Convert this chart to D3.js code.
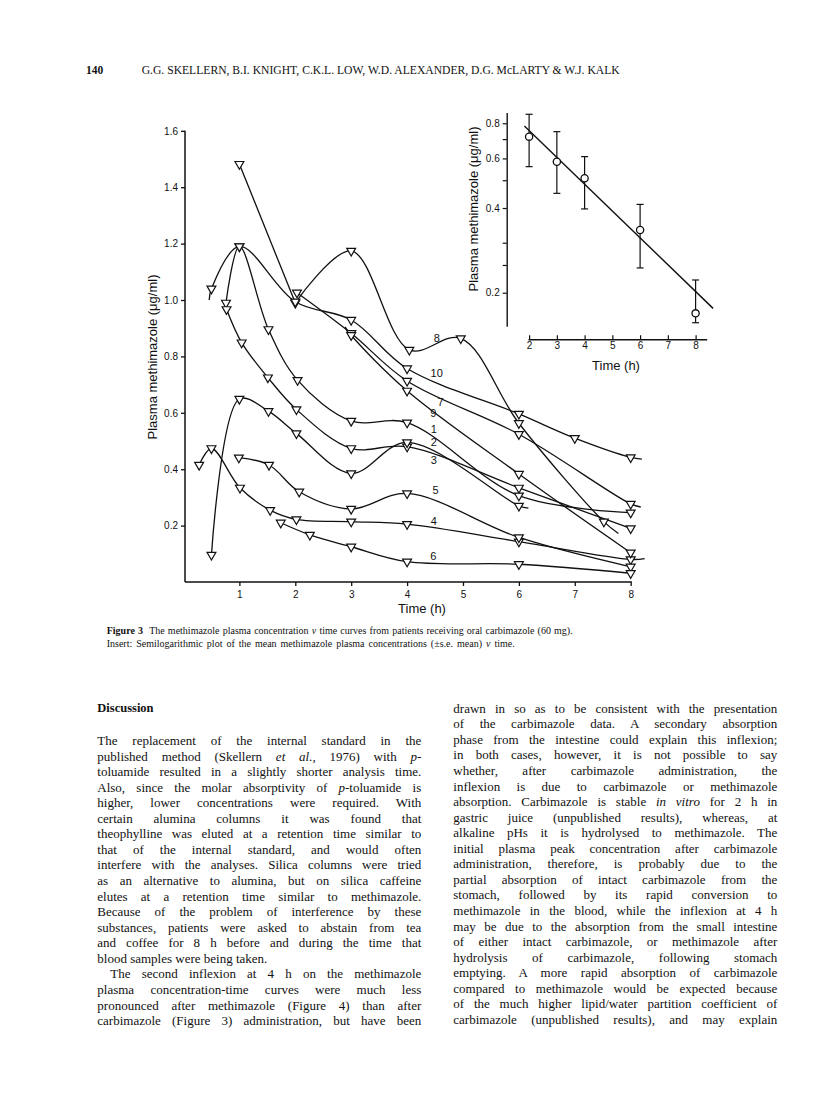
<!DOCTYPE html>
<html><head><meta charset="utf-8">
<script src="https://cdn.jsdelivr.net/npm/d3@7"></script>
<style>body{margin:0;background:#fff}</style>
</head><body>
<svg id="pg" width="816" height="1117"></svg>
<script>
// ---------- DATA ----------
const mainXTicks = [1, 2, 3, 4, 5, 6, 7, 8];
const mainYTicks = [0.2, 0.4, 0.6, 0.8, 1.0, 1.2, 1.4, 1.6];
// patient curves: [time (h), concentration (ug/ml)]
const curve1 = [[0.76, 0.99], [1, 1.19], [1.52, 0.896], [2.04, 0.716], [3, 0.571], [4, 0.565], [6, 0.306], [8, 0.246]];
const curve2 = [[0.77, 0.967], [1.04, 0.849], [1.51, 0.725], [2.02, 0.612], [3, 0.474], [4, 0.48], [6, 0.334], [8, 0.19]];
const curve3 = [[0.5, 0.096], [1, 0.649], [1.52, 0.606], [2.02, 0.527], [3, 0.385], [4, 0.495], [6, 0.27]];
const curve4 = [[0.28, 0.415], [0.5, 0.474], [1.01, 0.334], [1.55, 0.255], [2.02, 0.222], [3, 0.214], [4, 0.205], [6, 0.143], [8, 0.08]];
const curve5 = [[0.99, 0.441], [1.53, 0.415], [2.07, 0.32], [3, 0.259], [4, 0.314], [6, 0.158], [8, 0.054]];
const curve6 = [[1.74, 0.21], [2.26, 0.167], [3, 0.125], [4, 0.072], [6, 0.063], [8, 0.031]];
const curve7 = [[2.03, 1.026], [3, 0.882], [4, 0.713], [6, 0.524], [8, 0.277]];
const curve8a = [[1, 1.482], [2, 0.99]];
const curve8 = [[2, 0.99], [3, 1.174], [4.04, 0.823], [4.96, 0.864], [6, 0.563], [7.52, 0.214]];
const curve9 = [[3, 0.875], [4, 0.678], [6, 0.383], [8, 0.104]];
const curve10 = [[0.5, 1.04], [1, 1.19], [2, 0.994], [3, 0.929], [4, 0.757], [6, 0.596], [7, 0.51], [8, 0.442]];
// unmarked line ends (lead-in / run-out of the hand-drawn curves)
const curve10Head = [0.46, 1.0];
const curve9Head = [2.89, 0.905];
const curve3Tail = [6.17, 0.262];
const curve8Tail = [7.78, 0.172];
const curve10Tail = [8.2, 0.436];
const curve7Tail = [8.18, 0.266];
const curve4Tail = [8.25, 0.083];
const curveLabels = ["1", "2", "3", "4", "5", "6", "7", "8", "9", "10"];
const curveLabelAt = [[4.48, 0.541], [4.48, 0.497], [4.48, 0.433], [4.48, 0.216], [4.51, 0.326], [4.47, 0.09], [4.6, 0.638], [4.53, 0.864], [4.47, 0.599], [4.53, 0.74]];

// insert: mean +- s.e.
const insTime = [2, 3, 4, 6, 8];
const insMean = [0.717, 0.584, 0.51, 0.334, 0.169];
const insHigh = [0.861, 0.747, 0.609, 0.412, 0.222];
const insLow = [0.561, 0.451, 0.397, 0.245, 0.1565];
const insFit = [[1.83, 0.782], [8.63, 0.176]];
const insXTicks = [2, 3, 4, 5, 6, 7, 8];
const insYMajor = [0.2, 0.4, 0.6, 0.8];
const insYMinor = [0.25, 0.3, 0.5, 0.7];

// text
const headerNum = "140";
const headerAuthors = "G.G. SKELLERN, B.I. KNIGHT, C.K.L. LOW, W.D. ALEXANDER, D.G. McLARTY & W.J. KALK";
const caption1 = "**Figure 3**  The methimazole plasma concentration *v* time curves from patients receiving oral carbimazole (60 mg).";
const caption2 = "Insert: Semilogarithmic plot of the mean methimazole plasma concentrations (\u00b1s.e. mean) *v* time.";
const leftHeading = "**Discussion**";
const leftCol = [
  "The replacement of the internal standard in the",
  "published method (Skellern *et al.,* 1976) with *p-*",
  "toluamide resulted in a slightly shorter analysis time.",
  "Also, since the molar absorptivity of *p*-toluamide is",
  "higher, lower concentrations were required. With",
  "certain alumina columns it was found that",
  "theophylline was eluted at a retention time similar to",
  "that of the internal standard, and would often",
  "interfere with the analyses. Silica columns were tried",
  "as an alternative to alumina, but on silica caffeine",
  "elutes at a retention time similar to methimazole.",
  "Because of the problem of interference by these",
  "substances, patients were asked to abstain from tea",
  "and coffee for 8 h before and during the time that",
  "blood samples were being taken.",
  ">The second inflexion at 4 h on the methimazole",
  "plasma concentration-time curves were much less",
  "pronounced after methimazole (Figure 4) than after",
  "carbimazole (Figure 3) administration, but have been"
];
const rightCol = [
  "drawn in so as to be consistent with the presentation",
  "of the carbimazole data. A secondary absorption",
  "phase from the intestine could explain this inflexion;",
  "in both cases, however, it is not possible to say",
  "whether, after carbimazole administration, the",
  "inflexion is due to carbimazole or methimazole",
  "absorption. Carbimazole is stable *in vitro* for 2 h in",
  "gastric juice (unpublished results), whereas, at",
  "alkaline pHs it is hydrolysed to methimazole. The",
  "initial plasma peak concentration after carbimazole",
  "administration, therefore, is probably due to the",
  "partial absorption of intact carbimazole from the",
  "stomach, followed by its rapid conversion to",
  "methimazole in the blood, while the inflexion at 4 h",
  "may be due to the absorption from the small intestine",
  "of either intact carbimazole, or methimazole after",
  "hydrolysis of carbimazole, following stomach",
  "emptying. A more rapid absorption of carbimazole",
  "compared to methimazole would be expected because",
  "of the much higher lipid/water partition coefficient of",
  "carbimazole (unpublished results), and may explain"
];

// ---------- DRAW ----------
const svg = d3.select("#pg");
const SANS = "'Liberation Sans', Arial, sans-serif";
const SERIF = "'Liberation Serif', 'Times New Roman', serif";
const INK = "#111";

// main chart scales
const x = d3.scaleLinear([0, 8.02], [183.5, 631.8]);
const y = d3.scaleLinear([0, 1.6], [582, 130.8]);
const main = svg.append("g");

const xAx = main.append("g").attr("transform", "translate(0,582)")
  .call(d3.axisBottom(x).tickValues(mainXTicks).tickSize(4).tickSizeOuter(0).tickFormat(d3.format("d")));
const yAx = main.append("g").attr("transform", "translate(185,0)")
  .call(d3.axisLeft(y).tickValues(mainYTicks).tickSize(4).tickSizeOuter(0).tickFormat(d3.format(".1f")));
[xAx, yAx].forEach(a => {
  a.select(".domain").attr("stroke", INK).attr("stroke-width", 1.5);
  a.selectAll(".tick line").attr("stroke", INK).attr("stroke-width", 1.3);
  a.selectAll("text").attr("font-family", SANS).attr("font-size", 10).attr("fill", INK);
});
xAx.select(".domain").attr("d", `M${x(0) + 1.5},0H${x(8.02)}`);
xAx.selectAll("text").attr("dy", "0.9em");
yAx.select(".domain").attr("d", `M0,${y(0)}V${y(1.6)}`);

main.append("text").attr("x", 422).attr("y", 613).attr("text-anchor", "middle")
  .attr("font-family", SANS).attr("font-size", 13).attr("fill", INK).text("Time (h)");
main.append("text").attr("transform", "translate(157,357) rotate(-90)").attr("text-anchor", "middle")
  .attr("font-family", SANS).attr("font-size", 13).attr("fill", INK).text("Plasma methimazole (\u03bcg/ml)");

const smooth = d3.line().x(d => x(d[0])).y(d => y(d[1])).curve(d3.curveCatmullRom.alpha(0.5));
const straight = d3.line().x(d => x(d[0])).y(d => y(d[1]));
const series = [
  { pts: curve1 },
  { pts: curve2 },
  { pts: curve3, tail: curve3Tail },
  { pts: curve4, tail: curve4Tail },
  { pts: curve5 },
  { pts: curve6 },
  { pts: curve7, tail: curve7Tail },
  { pts: curve8, tail: curve8Tail },
  { pts: curve9, head: curve9Head },
  { pts: curve10, head: curve10Head, tail: curve10Tail }
];
const lines = main.append("g").attr("fill", "none").attr("stroke", INK).attr("stroke-width", 1.3);
series.forEach(s => {
  const all = (s.head ? [s.head] : []).concat(s.pts, s.tail ? [s.tail] : []);
  lines.append("path").attr("d", smooth(all));
});
lines.append("path").attr("d", straight(curve8a));

const tri = d3.symbol(d3.symbolTriangle, 34)();
const marks = main.append("g");
const allPts = series.flatMap(s => s.pts).concat(curve8a.slice(0, 1));
marks.selectAll("path").data(allPts).join("path")
  .attr("d", tri)
  .attr("transform", d => `translate(${x(d[0])},${y(d[1])}) rotate(180)`)
  .attr("fill", "#fff").attr("stroke", INK).attr("stroke-width", 1.2);

main.append("g").selectAll("text").data(curveLabels).join("text")
  .attr("x", (d, i) => x(curveLabelAt[i][0])).attr("y", (d, i) => y(curveLabelAt[i][1]))
  .attr("dy", "0.35em").attr("text-anchor", "middle")
  .attr("font-family", SANS).attr("font-size", 11).attr("fill", INK).text(d => d);

// insert
const xi = d3.scaleLinear([1.96, 8.4], [528, 706.7]);
const yi = d3.scaleLog([0.152, 0.873], [326.3, 112.6]);
const ins = svg.append("g");
const xiAx = ins.append("g").attr("transform", "translate(0,339.3)")
  .call(d3.axisTop(xi).tickValues(insXTicks).tickSize(4).tickSizeOuter(0).tickFormat(d3.format("d")));
xiAx.selectAll("text").attr("transform", "translate(0,17)");
const yiAx = ins.append("g").attr("transform", "translate(506.7,0)")
  .call(d3.axisLeft(yi).tickValues(insYMajor).tickSize(4).tickSizeOuter(0).tickFormat(d3.format(".1f")));
yiAx.append("g").selectAll("line").data(insYMinor).join("line")
  .attr("x1", -4).attr("x2", 0).attr("y1", d => yi(d)).attr("y2", d => yi(d));
[xiAx, yiAx].forEach(a => {
  a.select(".domain").attr("stroke", INK).attr("stroke-width", 1.4);
  a.selectAll("line").attr("stroke", INK).attr("stroke-width", 1.2);
  a.selectAll("text").attr("font-family", SANS).attr("font-size", 10).attr("fill", INK);
});
ins.append("text").attr("x", 616).attr("y", 370).attr("text-anchor", "middle")
  .attr("font-family", SANS).attr("font-size", 13).attr("fill", INK).text("Time (h)");
ins.append("text").attr("transform", "translate(478,209) rotate(-90)").attr("text-anchor", "middle")
  .attr("font-family", SANS).attr("font-size", 13).attr("fill", INK).text("Plasma methimazole (\u03bcg/ml)");

const eb = ins.append("g").attr("stroke", INK).attr("stroke-width", 1.2);
insTime.forEach((t, i) => {
  eb.append("line").attr("x1", xi(t)).attr("x2", xi(t)).attr("y1", yi(insHigh[i])).attr("y2", yi(insLow[i]));
  [insHigh[i], insLow[i]].forEach(v => eb.append("line").attr("x1", xi(t) - 3.5).attr("x2", xi(t) + 3.5).attr("y1", yi(v)).attr("y2", yi(v)));
});
ins.append("path").attr("d", d3.line().x(d => xi(d[0])).y(d => yi(d[1]))(insFit))
  .attr("stroke", INK).attr("stroke-width", 1.4).attr("fill", "none");
ins.append("g").selectAll("circle").data(insTime).join("circle")
  .attr("cx", d => xi(d)).attr("cy", (d, i) => yi(insMean[i])).attr("r", 3.6)
  .attr("fill", "#fff").attr("stroke", INK).attr("stroke-width", 1.3);

// ---------- TEXT ----------
function parseSegs(str) {
  const out = [];
  const re = /(\*\*[^*]+\*\*|\*[^*]+\*)/g;
  let last = 0, m;
  while ((m = re.exec(str))) {
    if (m.index > last) out.push({ t: str.slice(last, m.index) });
    if (m[0].startsWith("**")) out.push({ t: m[0].slice(2, -2), b: true });
    else out.push({ t: m[0].slice(1, -1), i: true });
    last = m.index + m[0].length;
  }
  if (last < str.length) out.push({ t: str.slice(last) });
  return out;
}
function textLine(px, py, str, size, width, justify) {
  let indent = 0;
  if (str.startsWith(">")) { indent = 13; str = str.slice(1); }
  const t = svg.append("text").attr("x", px + indent).attr("y", py)
    .attr("font-family", SERIF).attr("font-size", size).attr("fill", INK)
    .style("white-space", "pre");
  parseSegs(str).forEach(s => t.append("tspan").text(s.t)
    .attr("font-style", s.i ? "italic" : null).attr("font-weight", s.b ? "bold" : null));
  if (width) {
    const w = t.node().getComputedTextLength();
    const plain = parseSegs(str).map(s => s.t).join("");
    const n = (plain.match(/ /g) || []).length;
    const target = width - indent;
    const per = (target - w) / Math.max(n, 1);
    if ((justify || w > target) && n > 0) t.attr("word-spacing", Math.max(per, -1.2));
  }
  return t;
}
svg.append("text").attr("x", 86).attr("y", 74).attr("font-family", SERIF).attr("font-weight", "bold")
  .attr("font-size", 11.5).attr("fill", INK).text(headerNum);
svg.append("text").attr("x", 141.7).attr("y", 74).attr("font-family", SERIF)
  .attr("font-size", 11.5).attr("fill", INK).attr("textLength", 478).attr("lengthAdjust", "spacingAndGlyphs").text(headerAuthors);

textLine(106.7, 634, caption1, 10, 466, true);
textLine(106.7, 646.5, caption2, 10, 408, true);

textLine(97.3, 712, leftHeading, 12.5, 0, false);
const LH = 15.56;
leftCol.forEach((s, i) => {
  textLine(97.3, 745 + i * LH, s, 13, 324, i !== 14);
});
rightCol.forEach((s, i) => textLine(453.3, 712.7 + i * LH, s, 13, 324, true));
</script>
</body></html>
